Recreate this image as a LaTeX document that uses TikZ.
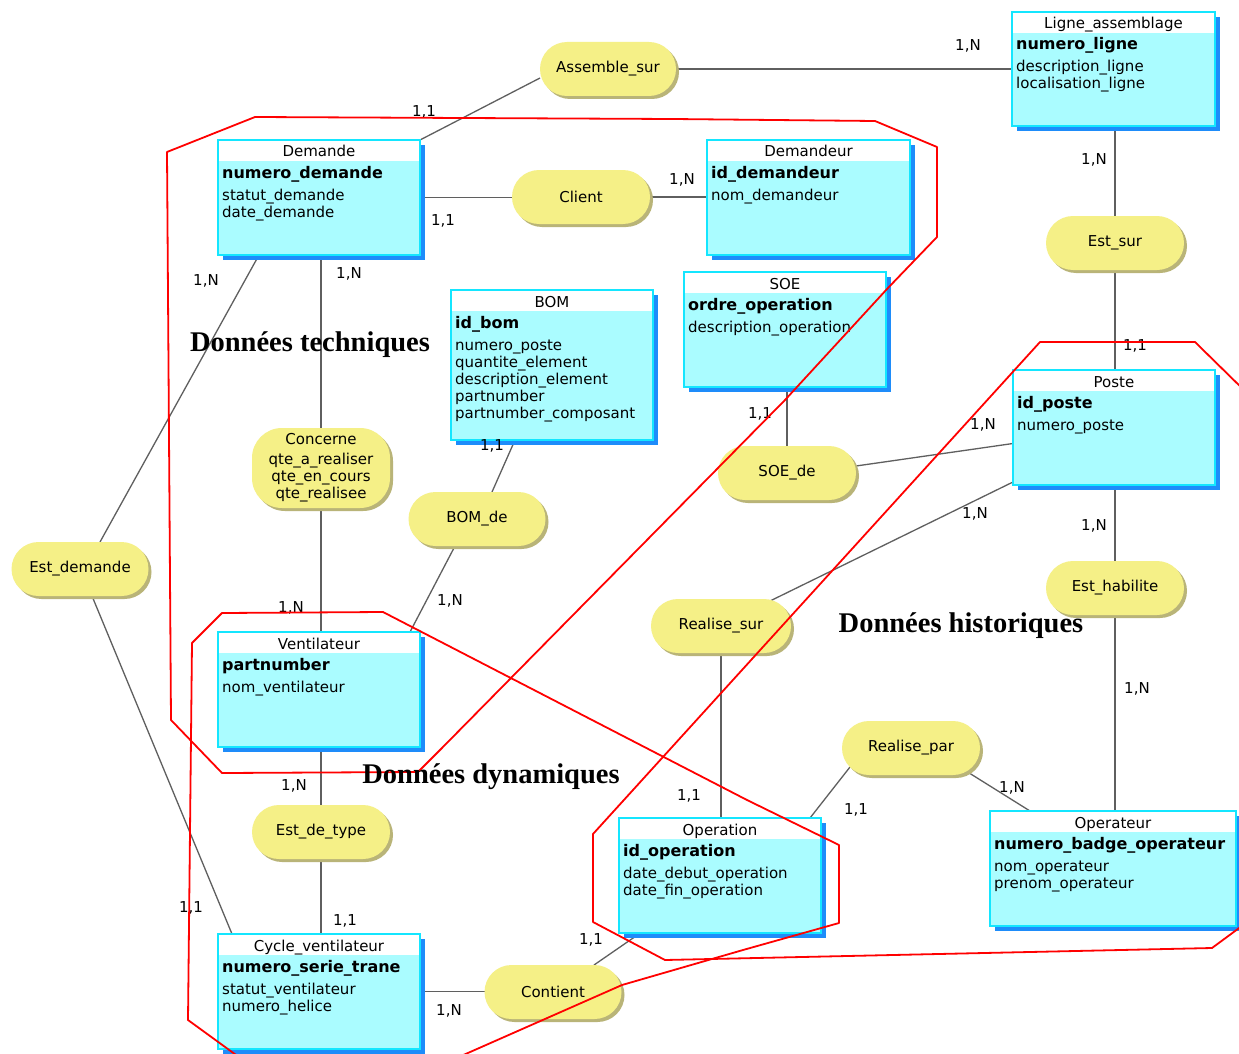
\documentclass[tikz,border=0pt]{standalone}
\usepackage{fontspec}
\setmainfont{DejaVu Sans}
\newfontfamily\bigserif{Liberation Serif}
\usetikzlibrary{shadows}
\definecolor{entfill}{RGB}{170,252,255}
\definecolor{entborder}{RGB}{20,230,255}
\definecolor{entshadow}{RGB}{30,140,250}
\definecolor{relfill}{RGB}{245,240,135}
\definecolor{relshadow}{RGB}{185,180,120}
\definecolor{linkgray}{RGB}{95,95,95}
\pgfdeclarelayer{bg}
\pgfsetlayers{bg,main}
\tikzset{
  entbox/.style={draw=entborder, line width=1.5pt, fill=entfill, inner sep=0pt, outer sep=0pt,
    drop shadow={shadow xshift=5pt, shadow yshift=-5pt, fill=entshadow, opacity=1}},
  enttitle/.style={anchor=base, inner sep=0pt, font=\fontsize{15}{17}\selectfont},
  entkey/.style={anchor=base west, inner sep=0pt, font=\fontsize{16}{17}\selectfont\bfseries},
  entattr/.style={anchor=base west, inner sep=0pt, font=\fontsize{15}{17}\selectfont},
  relbox/.style={fill=relfill, rounded corners=27pt, minimum height=54pt, inner sep=0pt, outer sep=0pt,
    align=center, font=\fontsize{15}{17}\selectfont,
    drop shadow={shadow xshift=3pt, shadow yshift=-3pt, fill=relshadow, opacity=1}},
  link/.style={draw=linkgray, line width=1.3pt},
  card/.style={inner sep=0pt, font=\fontsize{15}{16}\selectfont},
  zone/.style={draw=red, line width=1.8pt, line join=round},
  zonelabel/.style={inner sep=0pt, font=\bigserif\bfseries\fontsize{28.5}{30}\selectfont}
}
\newcommand{\entity}[8]{%
  \node[entbox, minimum width=#4pt, minimum height=#5pt] (#1) at (#2+#4/2, #3+#5/2) {};
  \fill[white] ([shift={(1pt,-1pt)}]#1.north west) rectangle ([shift={(-1pt,-21pt)}]#1.north east);
  \node[enttitle] (#1-t) at ([yshift=-17pt]#1.north) {#6};
  \node[entkey] (#1-k) at ([shift={(4pt,-38pt)}]#1.north west) {#7};
  \foreach \a [count=\i] in {#8} {\node[entattr] (#1-a\i) at ([shift={(4pt,{-43pt-17pt*\i})}]#1.north west) {\a};}%
}
\begin{document}
\begin{tikzpicture}[x=1pt,y=-1pt]
\useasboundingbox (0,0) rectangle (1239,1054);
\clip (0,0) rectangle (1239,1054);
% entities
\entity{Demande}{218}{140}{202}{115}{Demande}{numero\_demande}{statut\_demande,date\_demande}
\entity{Demandeur}{707}{140}{203}{115}{Demandeur}{id\_demandeur}{nom\_demandeur}
\entity{Ligne}{1012}{12}{203}{114}{Ligne\_assemblage}{numero\_ligne}{description\_ligne,localisation\_ligne}
\entity{BOM}{451}{290}{202}{150}{BOM}{id\_bom}{numero\_poste,quantite\_element,description\_element,partnumber,partnumber\_composant}
\entity{SOE}{684}{272}{202}{115}{SOE}{ordre\_operation}{description\_operation}
\entity{Poste}{1013}{370}{202}{115}{Poste}{id\_poste}{numero\_poste}
\entity{Ventilateur}{218}{632}{202}{115}{Ventilateur}{partnumber}{nom\_ventilateur}
\entity{Operation}{619}{818}{202}{115}{Operation}{id\_operation}{date\_debut\_operation,date\_fin\_operation}
\entity{Operateur}{990}{811}{246}{115}{Operateur}{numero\_badge\_operateur}{nom\_operateur,prenom\_operateur}
\entity{Cycle}{218}{934}{202}{115}{Cycle\_ventilateur}{numero\_serie\_trane}{statut\_ventilateur,numero\_helice}
% relationships
\node[relbox, minimum width=136pt] (AssembleSur) at (608,69) {Assemble\_sur};
\node[relbox, minimum width=138pt] (Client) at (581,197) {Client};
\node[relbox, minimum width=138pt] (EstSur) at (1115,243) {Est\_sur};
\node[relbox, minimum width=138pt, minimum height=80pt, rounded corners=30pt] (Concerne) at (321,468)
  {Concerne\\[3pt]qte\_a\_realiser\\qte\_en\_cours\\qte\_realisee};
\node[relbox, minimum width=137pt] (BOMde) at (477,519) {BOM\_de};
\node[relbox, minimum width=138pt] (SOEde) at (787,473) {SOE\_de};
\node[relbox, minimum width=138pt] (EstHabilite) at (1115,588) {Est\_habilite};
\node[relbox, minimum width=140pt] (RealiseSur) at (721,626) {Realise\_sur};
\node[relbox, minimum width=138pt] (RealisePar) at (911,748) {Realise\_par};
\node[relbox, minimum width=138pt] (EstDeType) at (321,832) {Est\_de\_type};
\node[relbox, minimum width=137pt] (EstDemande) at (80,569) {Est\_demande};
\node[relbox, minimum width=137pt] (Contient) at (553,992) {Contient};
% connectors
\begin{pgfonlayer}{bg}
\fill[white] (0,0) rectangle (1239,1054);
\draw[link] (Demande.north east) -- ([yshift=-9pt]AssembleSur.west);
\draw[link] (AssembleSur.east) -- (AssembleSur.east -| Ligne.west);
\draw[link] (Demande.east) -- (Demande.east -| Client.west);
\draw[link] (Client.east) -- (Client.east -| Demandeur.west);
\draw[link] (EstSur.north |- Ligne.south) -- (EstSur.north);
\draw[link] (EstSur.south) -- (EstSur.south |- Poste.north);
\draw[link] (Concerne.north |- Demande.south) -- (Concerne.north);
\draw[link] (Concerne.south) -- (Concerne.south |- Ventilateur.north);
\draw[link] ([xshift=-37pt]BOM.south) -- ([xshift=15pt]BOMde.north);
\draw[link] ([xshift=-22pt]BOMde.south) -- ([xshift=-10pt]Ventilateur.north east);
\draw[link] (SOEde.north |- SOE.south) -- (SOEde.north);
\draw[link] ([yshift=7pt]SOEde.east) -- ([yshift=-16pt]Poste.west);
\draw[link] ([yshift=3pt]Poste.south west) -- ([shift={(49pt,-2pt)}]RealiseSur.north);
\draw[link] (EstHabilite.north |- Poste.south) -- (EstHabilite.north);
\draw[link] (EstHabilite.south) -- (EstHabilite.south |- Operateur.north);
\draw[link] (RealiseSur.south) -- (RealiseSur.south |- Operation.north);
\draw[link] ([xshift=-11pt]Operation.north east) -- ([shift={(-61pt,-19pt)}]RealisePar.center);
\draw[link] ([shift={(55pt,-23pt)}]RealisePar.center) -- ([xshift=40pt]Operateur.north west);
\draw[link] ([xshift=41pt]Demande.south west) -- ([xshift=20pt]EstDemande.north);
\draw[link] ([xshift=12pt]EstDemande.south) -- ([xshift=14pt]Cycle.north west);
\draw[link] (EstDeType.north |- Ventilateur.south) -- (EstDeType.north);
\draw[link] (EstDeType.south) -- (EstDeType.south |- Cycle.north);
\draw[link] ([shift={(17pt,-3pt)}]Operation.south west) -- ([xshift=41pt]Contient.north);
\draw[link] (Cycle.east) -- (Cycle.east -| Contient.west);
\end{pgfonlayer}
% cardinalities
\foreach \n/\x/\y/\t in {c1/424/112/{1,1}, c2/968/46/{1,N}, c3/443/221/{1,1}, c4/682/180/{1,N},
  c5/1094/160/{1,N}, c6/1135/346/{1,1}, c7/349/274/{1,N}, c8/291/608/{1,N}, c9/492/446/{1,1},
  c10/450/601/{1,N}, c11/760/414/{1,1}, c12/983/425/{1,N}, c13/975/514/{1,N}, c14/1094/526/{1,N},
  c15/1137/689/{1,N}, c16/689/796/{1,1}, c17/856/810/{1,1}, c18/1012/788/{1,N}, c19/206/281/{1,N},
  c20/191/908/{1,1}, c21/294/786/{1,N}, c22/345/921/{1,1}, c23/591/940/{1,1}, c24/449/1011/{1,N}}
  {\node[card] (\n) at (\x,\y) {\t};}
% zones
\draw[zone] (167,152) -- (255,117) -- (673,119) -- (875,121) -- (937,147) -- (937,237) -- (887,289)
  -- (785,400) -- (440,750) -- (418,772) -- (222,773) -- (171,720) -- cycle;
\draw[zone] (243,1060) -- (188,1020) -- (192,643) -- (222,613) -- (383,612) -- (747,800) -- (839,845)
  -- (839,923) -- (743,950) -- (622,985) -- (452,1060);
\draw[zone] (1250,920) -- (1212,948) -- (665,960) -- (593,922) -- (593,834) -- (1040,342)
  -- (1195,342) -- (1250,396);
% zone labels
\node[zonelabel] (zt) at (310,345) {Données techniques};
\node[zonelabel] (zd) at (491,777) {Données dynamiques};
\node[zonelabel] (zh) at (961,626) {Données historiques};
\end{tikzpicture}
\end{document}
